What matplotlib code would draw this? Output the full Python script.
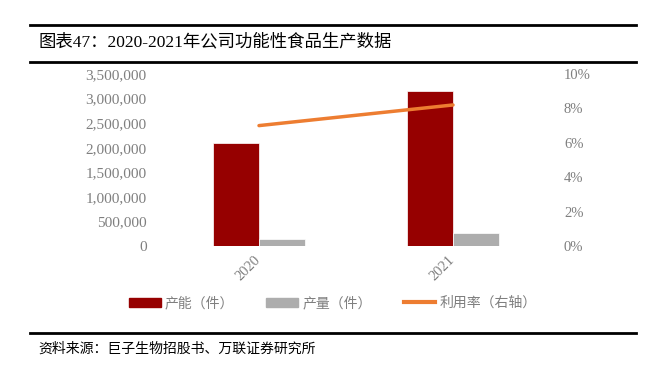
import matplotlib.pyplot as plt
from matplotlib.lines import Line2D
from matplotlib.patches import Patch
import matplotlib.ticker as mticker
import numpy as np

# 数据
years = ["2020", "2021"]
capacity = [2100000, 3150000]      # 产能（件）
output = [150000, 260000]          # 产量（件）
util_rate = [0.070, 0.082]         # 利用率（右轴）

red = "#960000"
gray = "#ADADAD"
orange = "#ED7D31"
tick_gray = "#7F7F7F"

cjk = ["Noto Sans CJK SC", "DejaVu Sans"]
serif_cjk = ["Liberation Serif", "Noto Sans CJK SC"]

fig = plt.figure(figsize=(6.55, 3.65), dpi=100)
W, H = 655, 365
ax = fig.add_axes([162 / W, 1 - 246 / H, (550 - 162) / W, (246 - 74) / H])
ax2 = ax.twinx()

x = np.arange(len(years))
bw = 0.237
ax.bar(x - bw / 2, capacity, width=bw, color=red, edgecolor="white", linewidth=0.5)
ax.bar(x + bw / 2, output, width=bw, color=gray, edgecolor="white", linewidth=0.5)
ax2.plot(x, util_rate, color=orange, linewidth=2.5, solid_capstyle="round")

ax.set_xlim(-0.5, 1.5)
ax.set_ylim(0, 3500000)
ax.set_yticks(np.arange(0, 3500001, 500000))
ax.yaxis.set_major_formatter(mticker.FuncFormatter(lambda v, p: f"{int(v):,}"))
ax2.set_ylim(0, 0.10)
ax2.set_yticks(np.arange(0, 0.1001, 0.02))
ax2.yaxis.set_major_formatter(mticker.FuncFormatter(lambda v, p: f"{v * 100:.0f}%"))

ax.set_xticks(x + 0.02)
ax.set_xticklabels(years, rotation=45, ha="right", va="top")

for a in (ax, ax2):
    for s in a.spines.values():
        s.set_visible(False)
    a.tick_params(length=0, colors=tick_gray, labelsize=11)
    for lbl in a.get_xticklabels() + a.get_yticklabels():
        lbl.set_family("Liberation Serif")
ax.tick_params(axis="y", pad=11)
ax.tick_params(axis="x", pad=5, labelsize=10.5)
ax2.tick_params(axis="y", pad=10, labelsize=10.5)

# 图例
handles = [Patch(color=red), Patch(color=gray), Line2D([0], [0], color=orange, linewidth=3)]
labels = ["产能（件）", "产量（件）", "利用率（右轴）"]
fig.legend(handles, labels, loc="center", bbox_to_anchor=(0.508, 1 - 303 / H), ncol=3,
           frameon=False, prop={"family": cjk, "size": 10}, labelcolor="#7F7F7F",
           handlelength=2.3, handleheight=0.6, columnspacing=2.3, handletextpad=0.3)

# 标题与横线
fig.add_artist(Line2D([30 / W, 636 / W], [1 - 25 / H] * 2, color="black", linewidth=2))
fig.add_artist(Line2D([30 / W, 636 / W], [1 - 62 / H] * 2, color="black", linewidth=2))
fig.add_artist(Line2D([30 / W, 636 / W], [1 - 333 / H] * 2, color="black", linewidth=2))
fig.text(38 / W, 1 - 42 / H, "图表47：2020-2021年公司功能性食品生产数据",
         family=serif_cjk, fontsize=12.5, va="center", ha="left", color="black")
fig.text(38 / W, 1 - 349 / H, "资料来源：巨子生物招股书、万联证券研究所",
         family=cjk, fontsize=10, style="italic", va="center", ha="left", color="black")

fig.savefig("out.png", dpi=100)
